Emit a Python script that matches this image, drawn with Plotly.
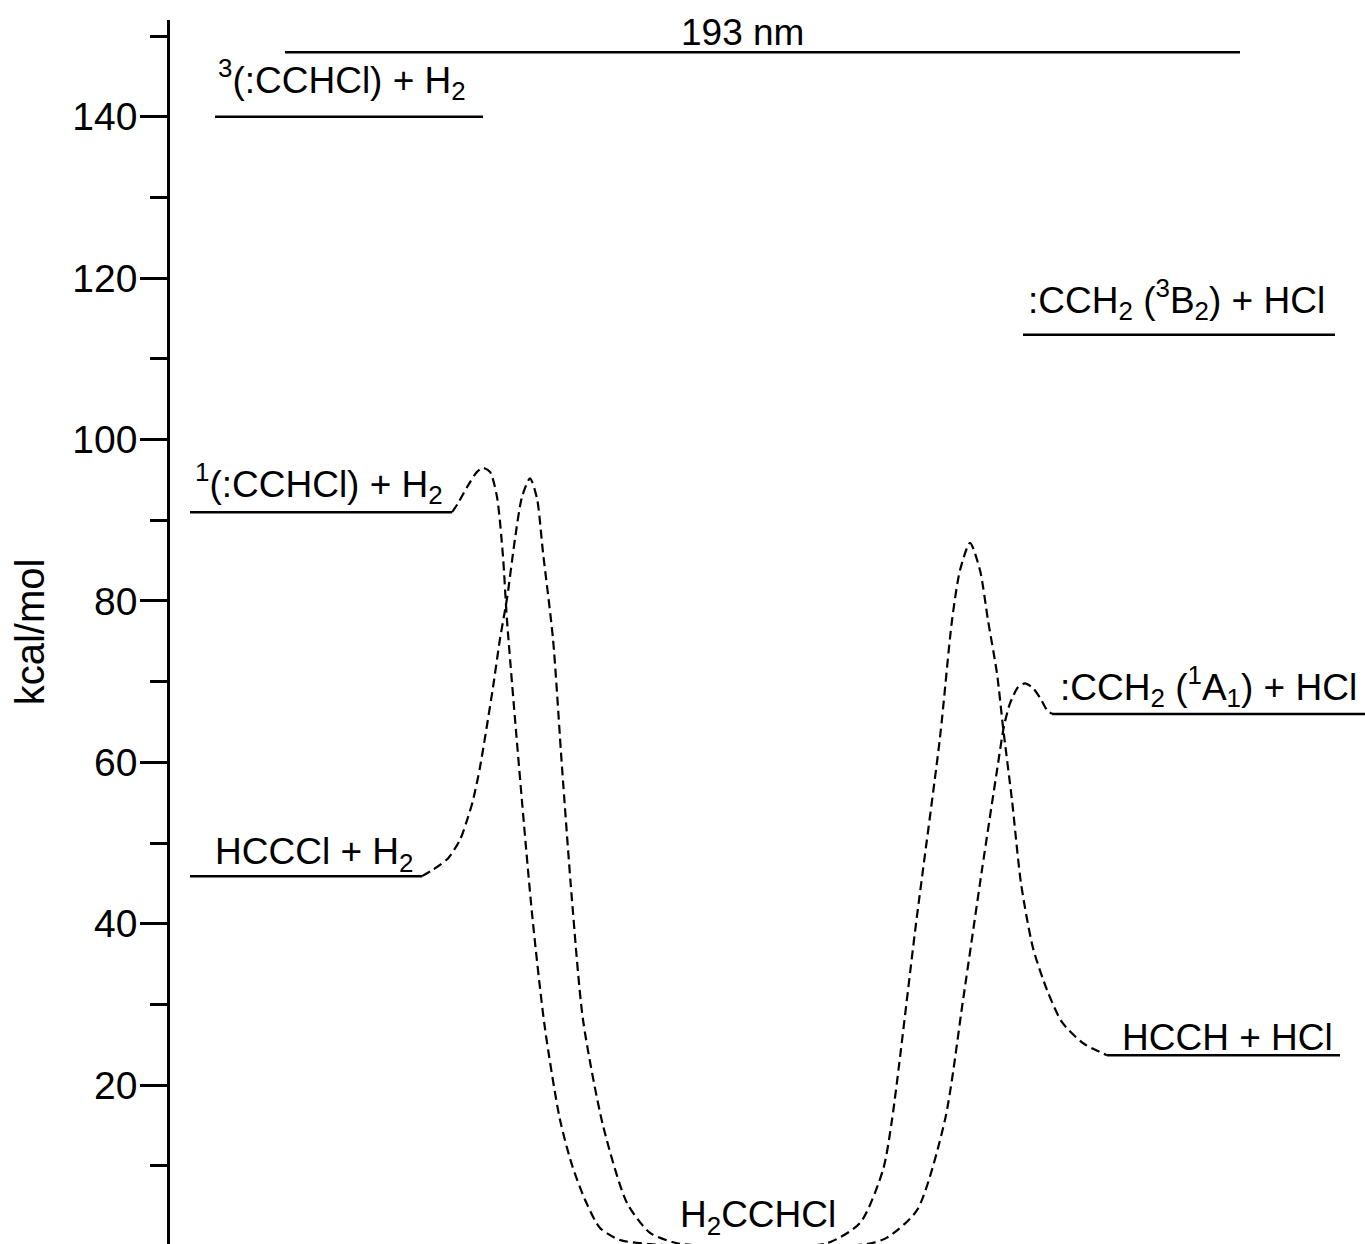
import plotly.graph_objects as go

# Energy levels (kcal/mol) and their labels
level_labels = [
    "193 nm",
    "<sup>3</sup>(:CCHCl) + H<sub>2</sub>",
    ":CCH<sub>2</sub> (<sup>3</sup>B<sub>2</sub>) + HCl",
    "<sup>1</sup>(:CCHCl) + H<sub>2</sub>",
    ":CCH<sub>2</sub> (<sup>1</sup>A<sub>1</sub>) + HCl",
    "HCCCl + H<sub>2</sub>",
    "HCCH + HCl",
]
level_energy = [148, 140, 113, 91, 66, 45.9, 23.7]

# Horizontal extent of each level bar along the reaction coordinate
level_span = [
    (285, 1240),
    (215, 483),
    (1023, 1335),
    (190, 452),
    (1052, 1365),
    (190, 422),
    (1107, 1340),
]
# Label anchor (x, energy at the text's vertical middle, horizontal anchor)
label_pos = [
    (742, 150.5, "center"),
    (216, 144.6, "left"),
    (1026, 117.4, "left"),
    (193, 94.5, "left"),
    (1058, 69.4, "left"),
    (213, 48.6, "left"),
    (1120, 25.9, "left"),
]

minimum_label = "H<sub>2</sub>CCHCl"

# Dashed reaction paths: HCCCl + H2 <- H2CCHCl -> :CCH2(1A1) + HCl
path_a_x = [422, 433, 448, 460, 468, 473, 480, 493, 500, 507, 515, 522, 530,
            537, 543, 553, 562, 572, 583, 603, 627, 650, 677, 720, 800, 867,
            887, 917, 945, 963, 982, 997, 1004, 1010, 1018, 1025, 1033, 1040,
            1047, 1052]
path_a_e = [45.9, 46.7, 48.1, 50.4, 53.2, 55.3, 59.4, 69.3, 75.3, 80.3, 87.7,
            92.9, 95.2, 92.7, 86.0, 75.3, 59.4, 42.9, 28.1, 15.0, 5.4, 1.7,
            0.4, 0.0, 0.0, 0.3, 1.1, 4.5, 15.7, 30.5, 46.7, 59.0, 64.5, 67.3,
            69.3, 69.8, 69.2, 68.0, 66.5, 66.0]

# Dashed reaction paths: 1(:CCHCl) + H2 <- H2CCHCl -> HCCH + HCl
path_b_x = [452, 458, 467, 477, 483, 490, 497, 503, 507, 532, 545, 560, 572,
            585, 600, 620, 650, 700, 780, 827, 860, 883, 892, 916, 940, 952,
            960, 970, 980, 988, 997, 1003, 1012, 1021, 1033, 1047, 1062, 1083,
            1107]
path_b_e = [91.0, 92.1, 94.1, 96.0, 96.5, 96.0, 92.9, 85.5, 77.6, 41.3, 27.0,
            15.7, 10.1, 5.8, 2.3, 0.8, 0.3, 0.0, 0.0, 0.4, 2.9, 9.5, 15.7,
            40.0, 63.1, 77.6, 83.8, 87.2, 83.8, 77.6, 71.0, 64.4, 55.3, 45.0,
            37.0, 31.8, 27.8, 25.2, 23.7]

major_ticks = [20, 40, 60, 80, 100, 120, 140]
minor_ticks = [10, 30, 50, 70, 90, 110, 130, 150]

FONT = "Liberation Sans, Arial, Helvetica, sans-serif"

fig = go.Figure()

for (x0, x1), e in zip(level_span, level_energy):
    fig.add_trace(go.Scatter(
        x=[x0, x1], y=[e, e], mode="lines",
        line=dict(color="black", width=2.5), hoverinfo="skip"))

for xs, es in ((path_a_x, path_a_e), (path_b_x, path_b_e)):
    fig.add_trace(go.Scatter(
        x=xs, y=es, mode="lines",
        line=dict(color="black", width=2.2, dash="9px,5px",
                  shape="spline", smoothing=0.7),
        hoverinfo="skip"))

for text, (x, y, anchor) in zip(level_labels, label_pos):
    fig.add_annotation(x=x, y=y, text=text, showarrow=False,
                       xanchor=anchor, yanchor="middle",
                       font=dict(family=FONT, size=37, color="black"))

fig.add_annotation(x=678, y=3.6, text=minimum_label, showarrow=False,
                   xanchor="left", yanchor="middle",
                   font=dict(family=FONT, size=37, color="black"))

fig.update_layout(
    width=1365, height=1244,
    margin=dict(l=170, r=0, t=20, b=0),
    paper_bgcolor="white", plot_bgcolor="white",
    showlegend=False,
    xaxis=dict(range=[170, 1365], visible=False),
    yaxis=dict(
        range=[0.31, 152.0],
        showline=True, linecolor="black", linewidth=2.5,
        showgrid=False, zeroline=False,
        ticks="outside", ticklen=27, tickwidth=2.5, tickcolor="black",
        ticklabelstandoff=-5,
        tickvals=major_ticks, ticktext=[str(v) for v in major_ticks],
        tickfont=dict(family=FONT, size=39, color="black"),
        minor=dict(tickvals=minor_ticks, ticks="outside", ticklen=17,
                   tickwidth=2.5, tickcolor="black", showgrid=False),
        title=dict(text="kcal/mol", standoff=16,
                   font=dict(family=FONT, size=40, color="black")),
    ),
)

fig.write_html("out.html")
